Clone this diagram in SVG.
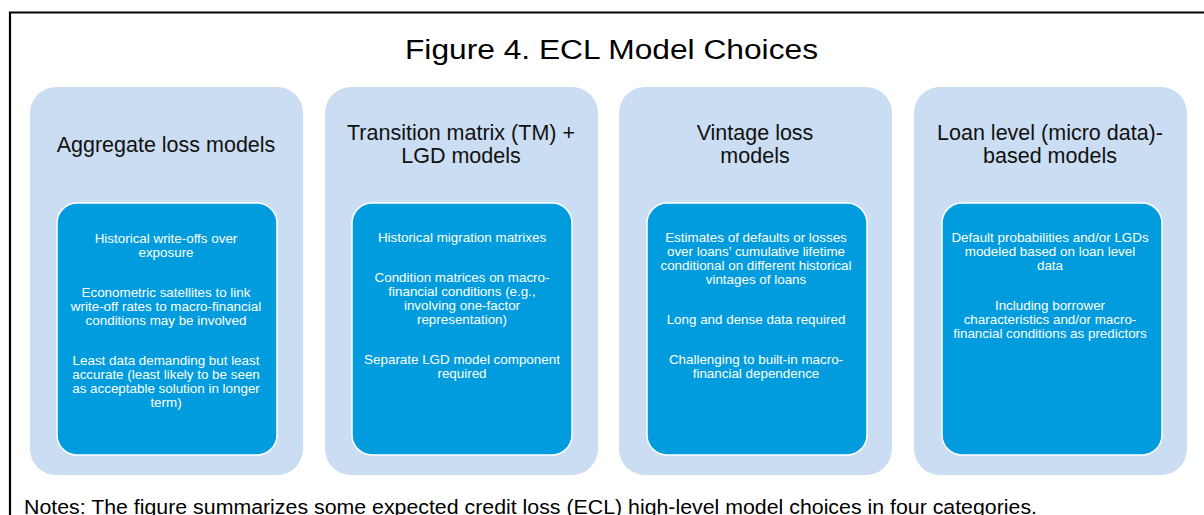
<svg xmlns="http://www.w3.org/2000/svg" width="1204" height="515" viewBox="0 0 1204 515">
<style>
.outer{fill:#cbddf2;}
.inner{fill:#009cdd;stroke:#ffffff;stroke-width:1.5;}
.title{font-family:"Liberation Sans",Arial,sans-serif;font-size:27px;fill:#000;text-anchor:middle;}
.head{font-family:"Liberation Sans",Arial,sans-serif;font-size:21.5px;fill:#111;text-anchor:middle;}
.body{font-family:"Liberation Sans",Arial,sans-serif;font-size:13.4px;fill:#fff;text-anchor:middle;}
.note{font-family:"Liberation Sans",Arial,sans-serif;font-size:20.5px;fill:#000;}
</style>
<rect x="0" y="0" width="1204" height="515" fill="#fff"/>
<path d="M10,515 V12.5 H1204" fill="none" stroke="#000" stroke-width="2.2"/>
<text class="title" x="611.5" y="58.5" textLength="413" lengthAdjust="spacingAndGlyphs">Figure 4. ECL Model Choices</text>
<g id="connectors"></g>
<g id="aggregate">
<rect class="outer" x="30" y="87" width="273" height="388" rx="26"/>
<text class="head" x="166" y="151.5">Aggregate loss models</text>
<rect class="inner" x="57" y="203" width="220" height="252" rx="20"/>
<text class="body" x="166" y="243">Historical write-offs over</text>
<text class="body" x="166" y="257">exposure</text>
<text class="body" x="166" y="297">Econometric satellites to link</text>
<text class="body" x="166" y="311">write-off rates to macro-financial</text>
<text class="body" x="166" y="325">conditions may be involved</text>
<text class="body" x="166" y="365">Least data demanding but least</text>
<text class="body" x="166" y="379">accurate (least likely to be seen</text>
<text class="body" x="166" y="393">as acceptable solution in longer</text>
<text class="body" x="166" y="407">term)</text>
</g>
<g id="transition">
<rect class="outer" x="325" y="87" width="273" height="388" rx="26"/>
<text class="head" x="461" y="140">Transition matrix (TM) +</text>
<text class="head" x="461" y="163">LGD models</text>
<rect class="inner" x="352" y="203" width="220" height="252" rx="20"/>
<text class="body" x="462" y="242">Historical migration matrixes</text>
<text class="body" x="462" y="282">Condition matrices on macro-</text>
<text class="body" x="462" y="296">financial conditions (e.g.,</text>
<text class="body" x="462" y="310">involving one-factor</text>
<text class="body" x="462" y="324">representation)</text>
<text class="body" x="462" y="364">Separate LGD model component</text>
<text class="body" x="462" y="378">required</text>
</g>
<g id="vintage">
<rect class="outer" x="619" y="87" width="273" height="388" rx="26"/>
<text class="head" x="755" y="140">Vintage loss</text>
<text class="head" x="755" y="163">models</text>
<rect class="inner" x="647" y="203" width="220" height="252" rx="20"/>
<text class="body" x="756" y="242">Estimates of defaults or losses</text>
<text class="body" x="756" y="256">over loans’ cumulative lifetime</text>
<text class="body" x="756" y="270">conditional on different historical</text>
<text class="body" x="756" y="284">vintages of loans</text>
<text class="body" x="756" y="324">Long and dense data required</text>
<text class="body" x="756" y="364">Challenging to built-in macro-</text>
<text class="body" x="756" y="378">financial dependence</text>
</g>
<g id="loanlevel">
<rect class="outer" x="914" y="87" width="273" height="388" rx="26"/>
<text class="head" x="1050" y="140">Loan level (micro data)-</text>
<text class="head" x="1050" y="163">based models</text>
<rect class="inner" x="942" y="203" width="220" height="252" rx="20"/>
<text class="body" x="1050" y="242">Default probabilities and/or LGDs</text>
<text class="body" x="1050" y="256">modeled based on loan level</text>
<text class="body" x="1050" y="270">data</text>
<text class="body" x="1050" y="310">Including borrower</text>
<text class="body" x="1050" y="324">characteristics and/or macro-</text>
<text class="body" x="1050" y="338">financial conditions as predictors</text>
</g>
<text class="note" x="24" y="514" textLength="1013" lengthAdjust="spacingAndGlyphs">Notes: The figure summarizes some expected credit loss (ECL) high-level model choices in four categories.</text>
</svg>
